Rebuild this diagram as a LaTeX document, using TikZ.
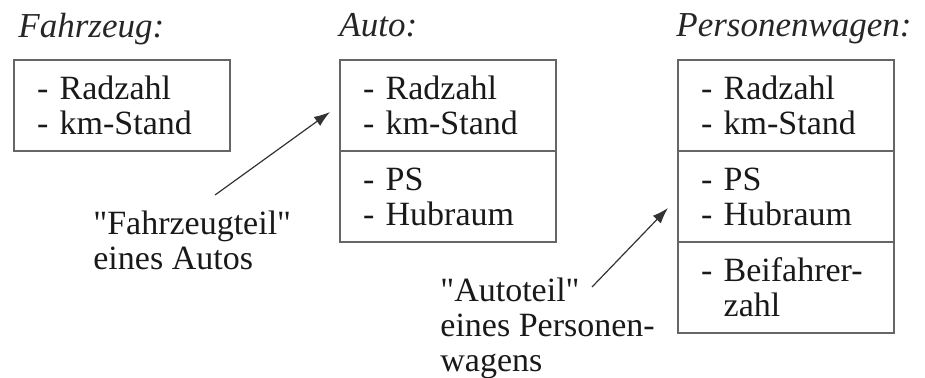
\documentclass[tikz,border=0pt]{standalone}
\usepackage{fontspec}
\setmainfont{Liberation Serif}
\usetikzlibrary{arrows.meta, positioning}

\begin{document}
\begin{tikzpicture}[
	x=0.5pt, y=-0.5pt,
	font=\fontsize{17}{17.5}\selectfont,
	node distance=0pt and 55pt,
	part/.style={draw=black!60, line width=0.8pt, align=left, text width=85pt, minimum width=108pt, minimum height=45.5pt, inner xsep=11.5pt, inner ysep=0pt, outer sep=0pt, text=black!90, anchor=north west},
	head/.style={font=\fontsize{17.5}{18}\selectfont\itshape, anchor=base west, inner sep=0pt, text=black!85},
	note/.style={align=left, anchor=base west, inner sep=0pt, text=black!90},
	arr/.style={-{Latex[length=8pt, width=5.5pt]}, line width=0.6pt, draw=black!80}
]
\useasboundingbox (0,0) rectangle (925,377);

\node[part] (fz) at (14,60) {- Radzahl\\- km-Stand};
\node[part, right=55pt of fz] (autoA) {- Radzahl\\- km-Stand};
\node[part, below=0pt of autoA] (autoB) {- PS\\- Hubraum};
\node[part, right=61pt of autoA] (pkwA) {- Radzahl\\- km-Stand};
\node[part, below=0pt of pkwA] (pkwB) {- PS\\- Hubraum};
\node[part, below=0pt of pkwB] (pkwC) {- Beifahrer-\\\hphantom{- }zahl};

\node[head] (fzT) at ([shift={(2pt,11.5pt)}]fz.north west) {Fahrzeug:};
\node[head] (autoT) at ([shift={(-0.5pt,12pt)}]autoA.north west) {Auto:};
\node[head] (pkwT) at ([shift={(-1pt,11.75pt)}]pkwA.north west) {Personenwagen:};

% base = baseline of the last line
\node[note] (fzNote) at (93,269) {\textquotedbl Fahrzeugteil\textquotedbl\\eines Autos};
\node[note] (autoNote) at (440,371) {\textquotedbl Autoteil\textquotedbl\\eines Personen-\\wagens};

\coordinate (fzTail) at (215,195);
\coordinate (autoTail) at (592,287);
\draw[arr] (fzTail) -- ([shift={(-5pt,-3.25pt)}]autoA.west);
\draw[arr] (autoTail) -- ([shift={(-5pt,-5.75pt)}]pkwB.west);

\end{tikzpicture}
\end{document}
